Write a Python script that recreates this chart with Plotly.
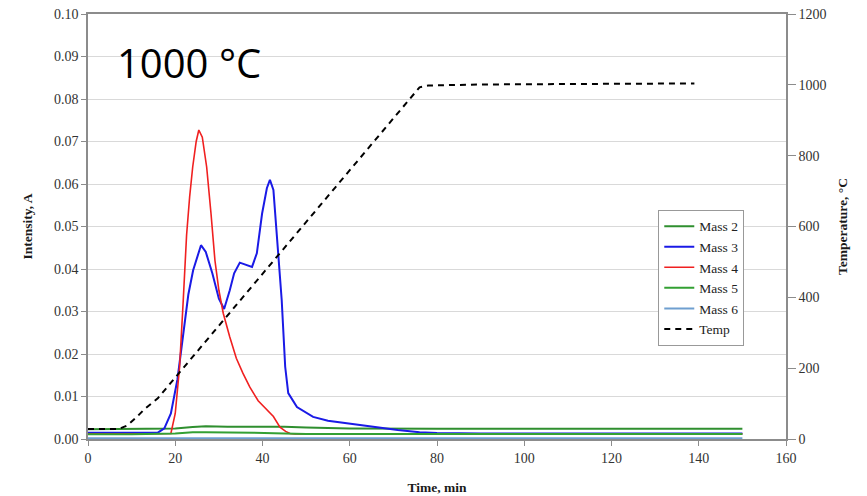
import plotly.graph_objects as go

# ---- data ----
t_m2 = [0, 10, 20, 24, 27, 32, 38, 45, 50, 60, 80, 150]
mass2 = [0.0023, 0.0024, 0.0025, 0.0028, 0.0030, 0.0029, 0.0029, 0.0029, 0.0027, 0.0025, 0.0024, 0.0024]

t_m3 = [0, 10, 16, 17.5, 19, 20.5, 21.8, 23, 24.1, 25.9, 27, 28.5, 30, 31.2, 32.5, 33.5,
        34.8, 36, 37.6, 38.7, 39.9, 41, 41.7, 42.5, 43.5, 44.4, 45.2, 45.9, 47.9, 51.6,
        55, 59.3, 63, 67, 71, 76, 80, 90, 150]
mass3 = [0.0015, 0.0015, 0.0015, 0.0025, 0.006, 0.014, 0.025, 0.034, 0.0397, 0.0456, 0.044,
         0.039, 0.033, 0.0306, 0.035, 0.039, 0.0415, 0.041, 0.0405, 0.0437, 0.053, 0.059,
         0.061, 0.0586, 0.0445, 0.0327, 0.017, 0.0108, 0.0075, 0.0052, 0.0043, 0.0037,
         0.0031, 0.0026, 0.0021, 0.0016, 0.0014, 0.0013, 0.0013]

t_m4 = [0, 10, 19, 20, 21, 21.8, 22.6, 23.3, 24, 24.8, 25.4, 26.2, 27.2, 28.2, 29.1, 30,
        31, 32.5, 34, 35.5, 37.1, 39, 40.8, 42.5, 44, 45.3, 46.3, 47.5, 60, 150]
mass4 = [0.0012, 0.0012, 0.0013, 0.006, 0.017, 0.032, 0.048, 0.057, 0.064, 0.070, 0.0727,
         0.071, 0.064, 0.053, 0.042, 0.035, 0.0296, 0.024, 0.019, 0.0155, 0.0122, 0.009,
         0.007, 0.0053, 0.0028, 0.0018, 0.0013, 0.0012, 0.0012, 0.0012]

t_m5 = [0, 10, 20, 24, 27, 32, 38, 45, 50, 60, 80, 150]
mass5 = [0.0011, 0.0011, 0.0013, 0.0016, 0.0016, 0.0016, 0.0015, 0.0013, 0.0012, 0.0012, 0.0012, 0.0012]

t_m6 = [0, 150]
mass6 = [0.0002, 0.0002]

t_temp = [0, 7, 9, 11, 13, 16, 76, 78, 90, 139]
temp = [28, 28, 38, 60, 85, 115, 993, 998, 1001, 1004]

x_ticks = [0, 20, 40, 60, 80, 100, 120, 140, 160]

serif = "Liberation Serif, Times New Roman, serif"
grid = "#d9d9d9"
axis_col = "#8c8c8c"
tick_font = dict(family=serif, size=14, color="#333")
title_font = dict(family=serif, size=13.5, color="#1a1a1a")

fig = go.Figure()
fig.add_trace(go.Scatter(x=t_m2, y=mass2, name="Mass 2", mode="lines",
                         line=dict(color="#2f8f2f", width=2)))
fig.add_trace(go.Scatter(x=t_m3, y=mass3, name="Mass 3", mode="lines",
                         line=dict(color="#1a1ae6", width=2)))
fig.add_trace(go.Scatter(x=t_m4, y=mass4, name="Mass 4", mode="lines",
                         line=dict(color="#f02020", width=1.6)))
fig.add_trace(go.Scatter(x=t_m5, y=mass5, name="Mass 5", mode="lines",
                         line=dict(color="#33a033", width=2)))
fig.add_trace(go.Scatter(x=t_m6, y=mass6, name="Mass 6", mode="lines",
                         line=dict(color="#6f9fd0", width=2)))
fig.add_trace(go.Scatter(x=t_temp, y=temp, name="Temp", mode="lines", yaxis="y2",
                         line=dict(color="black", width=2, dash="6px,5px")))

fig.update_layout(
    width=867, height=496,
    margin=dict(l=88, r=81, t=14, b=57, autoexpand=False),
    paper_bgcolor="white", plot_bgcolor="white",
    font=dict(family=serif, size=14, color="#333333"),
    xaxis=dict(range=[0, 160], tickvals=x_ticks, ticks="outside", ticklen=5,
               tickcolor=axis_col, showgrid=False, showline=True, linecolor=axis_col,
               linewidth=1.5, mirror=True, zeroline=False, automargin=False,
               title=dict(text="<b>Time, min</b>", font=title_font, standoff=18),
               tickfont=tick_font),
    yaxis=dict(range=[0, 0.1], dtick=0.01, tickformat=".2f", ticks="outside", ticklen=5,
               tickcolor=axis_col, showgrid=True, gridcolor=grid, showline=True,
               linecolor=axis_col, linewidth=1.5, zeroline=False, automargin=False,
               title=dict(text="<b>Intensity, A</b>", font=title_font, standoff=18),
               tickfont=tick_font),
    yaxis2=dict(range=[0, 1200], dtick=200, overlaying="y", side="right", ticks="outside",
                ticklen=8, tickcolor=axis_col, showgrid=False, showline=True,
                linecolor=axis_col, linewidth=1.5, zeroline=False, automargin=False,
                title=dict(text="<b>Temperature, °C</b>", font=title_font, standoff=12),
                tickfont=tick_font),
    legend=dict(x=0.817, y=0.539, xanchor="left", yanchor="top",
                bgcolor="white", bordercolor="#999999", borderwidth=1,
                font=dict(family=serif, size=13.5, color="#222"),
                tracegroupgap=0, itemwidth=30),
    showlegend=True,
    annotations=[dict(text="1000 °C", xref="paper", yref="paper", x=0.038, y=0.887,
                      xanchor="left", yanchor="middle", showarrow=False,
                      font=dict(family="Open Sans, Noto Sans, sans-serif", size=40, color="black"))],
)

fig.write_html("out.html", config={"displayModeBar": False},
               post_script="document.body.style.margin='0';document.body.style.padding='0';")
